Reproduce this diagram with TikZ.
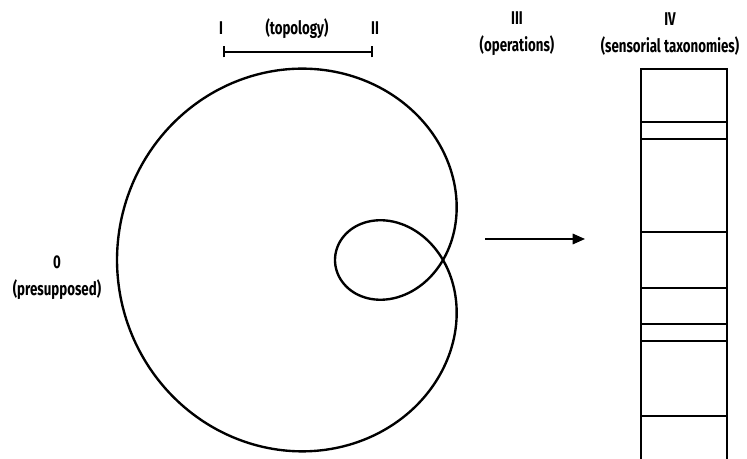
\documentclass[tikz,border=0pt]{standalone}
\usepackage{fontspec}
\setmainfont{Fira Sans}[FakeStretch=0.72]
\usepackage{tikz}
\usetikzlibrary{arrows.meta}
\usetikzlibrary{positioning}

\begin{document}
\begin{tikzpicture}[
		every node/.style={font=\fontsize{10.5}{15.5}\selectfont\bfseries, inner sep=0pt},
		stage/.style={align=center},
		curve/.style={line width=1.35pt},
		bar/.style={line width=0.8pt},
		strip/.style={line width=0.85pt},
		flow/.style={line width=0.85pt, -{Triangle[length=7pt, width=6pt]}}
	]
	\useasboundingbox (0,0) rectangle (14.94,9.18);

	% Labels
	\node[anchor=base] (one) at (4.42,8.48) {I};
	\node[anchor=base] (topo) at (5.94,8.48) {(topology)};
	\node[anchor=base] (two) at (7.50,8.48) {II};
	\node[stage] (three) at (10.34,8.50) {III\\(operations)};
	\node[stage] (four) at (13.40,8.50) {IV\\(sensorial taxonomies)};
	\node[stage] (zero) at (1.14,3.62) {0\\(presupposed)};

	% Topology bar
	\coordinate (barl) at (4.48,8.14);
	\coordinate (barr) at (7.44,8.14);
	\draw[bar] (barl) -- (barr);
	\draw[bar] ([yshift=-0.11cm]barl) -- ([yshift=0.11cm]barl);
	\draw[bar] ([yshift=-0.11cm]barr) -- ([yshift=0.11cm]barr);

	% Limacon
	\coordinate (pole) at (8.86,3.98);
	\draw[curve] plot[domain=0:360, samples=240, smooth]
		({8.86+(2.18-4.34*cos(\x))*cos(\x)}, {3.98+(2.18-4.34*cos(\x))*sin(\x)});

	% Arrow
	\coordinate (from) at (9.70,4.40);
	\coordinate (to) at (11.70,4.40);
	\draw[flow] (from) -- (to);

	% Taxonomy strip
	\draw[strip] (12.82,0) -- (12.82,7.80) -- (14.54,7.80) -- (14.54,0);
	\foreach \y in {6.74,6.40,4.54,3.42,2.70,2.36,0.86}
		\draw[strip] (12.82,\y) -- (14.54,\y);

\end{tikzpicture}
\end{document}
